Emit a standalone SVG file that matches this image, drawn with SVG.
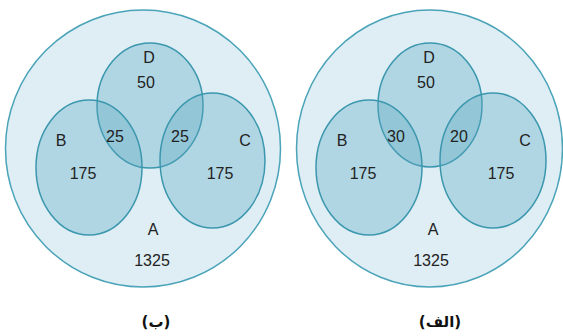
<svg xmlns="http://www.w3.org/2000/svg" width="563" height="336" viewBox="0 0 563 336">
<style>
.outer{fill:#deeef4;stroke:#4aa3b8;stroke-width:1.5}
.set{fill:#5aa6c0;fill-opacity:0.34;stroke:#3b97ae;stroke-width:1.5}
.t{font-family:"Liberation Sans",Arial,sans-serif;font-size:16px;fill:#222;text-anchor:middle}
.cap{font-family:"DejaVu Sans",sans-serif;font-size:15px;font-weight:bold;fill:#111;text-anchor:middle;direction:rtl;unicode-bidi:embed}
</style>
<rect width="563" height="336" fill="#ffffff"/>
<g id="panel-b">
  <g id="b-A"><ellipse class="outer" cx="143" cy="148.5" rx="137.5" ry="138.5"/>
    <text class="t" x="153" y="235">A</text><text class="t" x="152" y="266">1325</text></g>
  <g id="b-D"><ellipse class="set" cx="150" cy="105.5" rx="53" ry="62.5"/>
    <text class="t" x="149" y="63">D</text><text class="t" x="146" y="88">50</text></g>
  <g id="b-B"><ellipse class="set" cx="89" cy="167.5" rx="53" ry="67.5"/>
    <text class="t" x="61" y="146">B</text><text class="t" x="83" y="179">175</text></g>
  <g id="b-C"><ellipse class="set" cx="212.5" cy="160.5" rx="52.5" ry="67.5"/>
    <text class="t" x="245" y="146">C</text><text class="t" x="220" y="179">175</text></g>
  <g id="b-overlaps"><text class="t" x="115" y="142">25</text><text class="t" x="180" y="142">25</text></g>
  <text class="cap" x="156" y="327" direction="rtl">(ب)</text>
</g>
<g id="panel-alef">
  <g id="a-A"><ellipse class="outer" cx="429.5" cy="148.5" rx="133" ry="138.5"/>
    <text class="t" x="433" y="235">A</text><text class="t" x="431" y="266">1325</text></g>
  <g id="a-D"><ellipse class="set" cx="430" cy="105" rx="52" ry="62"/>
    <text class="t" x="429" y="63">D</text><text class="t" x="426" y="88">50</text></g>
  <g id="a-B"><ellipse class="set" cx="369" cy="167.5" rx="53" ry="67.5"/>
    <text class="t" x="342" y="146">B</text><text class="t" x="363" y="179">175</text></g>
  <g id="a-C"><ellipse class="set" cx="493" cy="160.5" rx="53" ry="67.5"/>
    <text class="t" x="525" y="146">C</text><text class="t" x="501" y="179">175</text></g>
  <g id="a-overlaps"><text class="t" x="396" y="142">30</text><text class="t" x="459" y="142">20</text></g>
  <text class="cap" x="440" y="327" direction="rtl">(الف)</text>
</g>
<g id="connectors"/>
</svg>
